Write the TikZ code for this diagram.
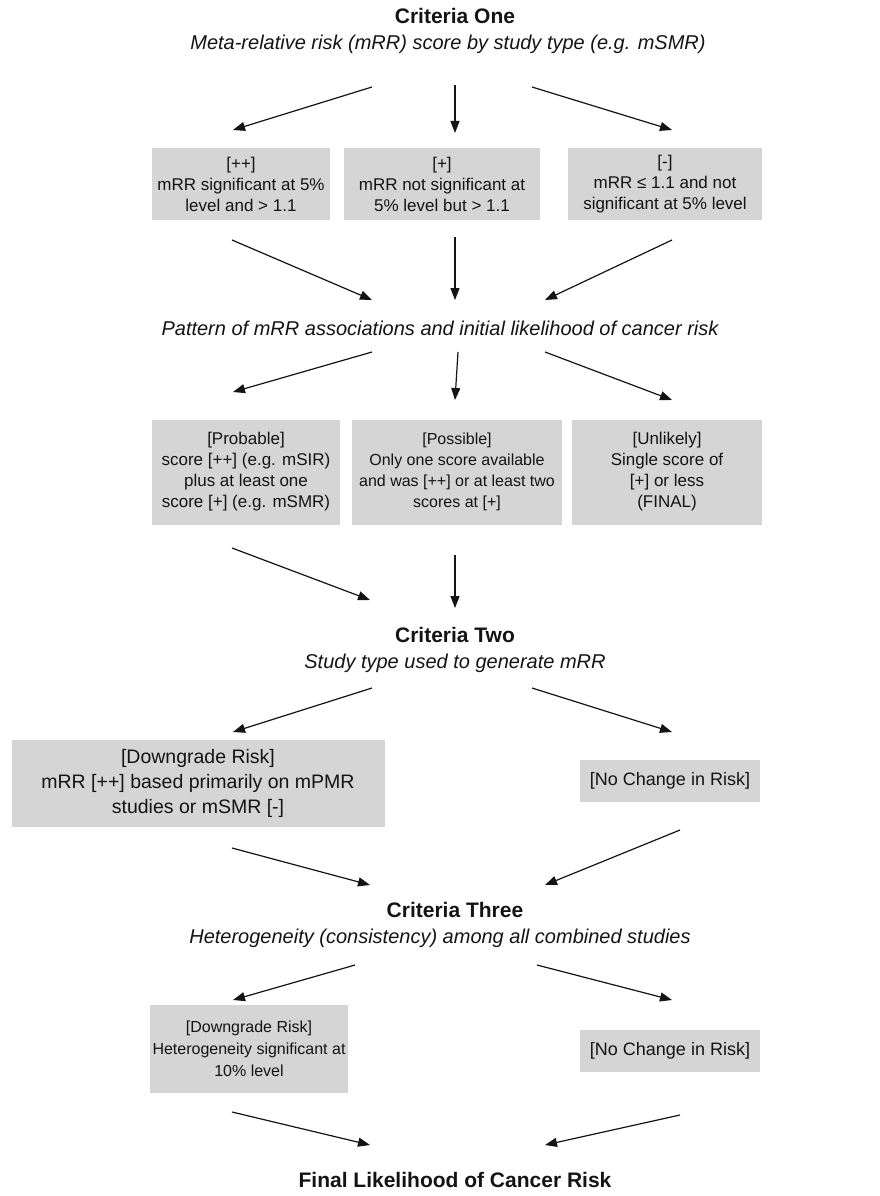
\documentclass[tikz,border=0pt]{standalone}
\usepackage{fontspec}
\setmainfont{Liberation Sans}
\usetikzlibrary{arrows.meta}
\definecolor{boxgray}{RGB}{213,213,213}
\definecolor{ink}{RGB}{20,20,20}
\begin{document}
\begin{tikzpicture}[x=1pt,y=-1pt,
  every node/.style={text=ink,font=\fontsize{17}{21}\selectfont,align=center,inner sep=0pt},
  title/.style={font=\bfseries\fontsize{21}{25}\selectfont},
  sub/.style={font=\itshape\fontsize{20}{24}\selectfont},
  gbox/.style={fill=boxgray,minimum height=#1},
  arr/.style={draw=ink,line width=1.2pt,-{Triangle[length=12pt,width=9pt]}}
]
\useasboundingbox[fill=white] (0,0) rectangle (880,1196);

% Criteria One
\node[title] (c1) at (455,16) {Criteria One};
\node[sub] (c1s) at (448,44) {Meta-relative risk (mRR) score by study type (e.g. mSMR)};

\node[gbox=72pt,minimum width=178pt] (b11) at (241,184) {[++]\\mRR significant at 5\%\\level and > 1.1};
\node[gbox=72pt,minimum width=196pt] (b12) at (442,184) {[+]\\mRR not significant at\\5\% level but > 1.1};
\node[gbox=72pt,minimum width=194pt] (b13) at (665,184) {[-]\\mRR ≤ 1.1 and not\\significant at 5\% level};

\coordinate (a1s) at (372,87);  \coordinate (a1e) at (233,130);
\coordinate (a2s) at (455,85);  \coordinate (a2e) at (455,133);
\coordinate (a3s) at (532,87);  \coordinate (a3e) at (672,130);
\draw[arr] (a1s) -- (a1e);
\draw[arr] (a2s) -- (a2e);
\draw[arr] (a3s) -- (a3e);

% Pattern
\node[sub] (pat) at (440,328) {Pattern of mRR associations and initial likelihood of cancer risk};
\coordinate (b1s) at (232,240); \coordinate (b1e) at (372,300);
\coordinate (b2s) at (455,237); \coordinate (b2e) at (455,300);
\coordinate (b3s) at (672,240); \coordinate (b3e) at (545,300);
\draw[arr] (b1s) -- (b1e);
\draw[arr] (b2s) -- (b2e);
\draw[arr] (b3s) -- (b3e);

\coordinate (p1s) at (372,352); \coordinate (p1e) at (233,392);
\coordinate (p2s) at (458,352); \coordinate (p2e) at (455,400);
\coordinate (p3s) at (545,352); \coordinate (p3e) at (672,400);
\draw[arr] (p1s) -- (p1e);
\draw[arr] (p2s) -- (p2e);
\draw[arr] (p3s) -- (p3e);

\node[gbox=105pt,minimum width=188pt] (b21) at (246,472) {[Probable]\\score [++] (e.g. mSIR)\\plus at least one\\score [+] (e.g. mSMR)};
\node[gbox=105pt,minimum width=210pt,font=\fontsize{16}{21}\selectfont] (b22) at (457,472) {[Possible]\\Only one score available\\and was [++] or at least two\\scores at [+]};
\node[gbox=105pt,minimum width=190pt] (b23) at (667,472) {[Unlikely]\\Single score of\\{[+]} or less\\(FINAL)};

% Criteria Two
\node[title] (c2) at (455,635) {Criteria Two};
\node[sub] (c2s) at (455,663) {Study type used to generate mRR};
\coordinate (q1s) at (232,548); \coordinate (q1e) at (370,600);
\coordinate (q2s) at (455,555); \coordinate (q2e) at (455,608);
\draw[arr] (q1s) -- (q1e);
\draw[arr] (q2s) -- (q2e);

\coordinate (r1s) at (372,688); \coordinate (r1e) at (233,732);
\coordinate (r2s) at (532,688); \coordinate (r2e) at (672,732);
\draw[arr] (r1s) -- (r1e);
\draw[arr] (r2s) -- (r2e);

\node[gbox=87pt,minimum width=373pt,font=\fontsize{19.5}{25}\selectfont] (b31) at (198,783) {[Downgrade Risk]\\mRR [++] based primarily on mPMR\\studies or mSMR [-]};
\node[gbox=42pt,minimum width=180pt,font=\fontsize{18}{22}\selectfont] (b32) at (670,781) {[No Change in Risk]};

% Criteria Three
\node[title] (c3) at (455,910) {Criteria Three};
\node[sub] (c3s) at (440,938) {Heterogeneity (consistency) among all combined studies};
\coordinate (s1s) at (232,848); \coordinate (s1e) at (370,885);
\coordinate (s2s) at (680,830); \coordinate (s2e) at (545,885);
\draw[arr] (s1s) -- (s1e);
\draw[arr] (s2s) -- (s2e);

\coordinate (t1s) at (355,965); \coordinate (t1e) at (233,1000);
\coordinate (t2s) at (537,965); \coordinate (t2e) at (672,1000);
\draw[arr] (t1s) -- (t1e);
\draw[arr] (t2s) -- (t2e);

\node[gbox=88pt,minimum width=198pt,font=\fontsize{16}{22}\selectfont] (b41) at (249,1049) {[Downgrade Risk]\\Heterogeneity significant at\\10\% level};
\node[gbox=42pt,minimum width=180pt,font=\fontsize{18}{22}\selectfont] (b42) at (670,1051) {[No Change in Risk]};

\coordinate (u1s) at (232,1112); \coordinate (u1e) at (370,1145);
\coordinate (u2s) at (680,1115); \coordinate (u2e) at (545,1145);
\draw[arr] (u1s) -- (u1e);
\draw[arr] (u2s) -- (u2e);

\node[title] (fin) at (455,1180) {Final Likelihood of Cancer Risk};
\end{tikzpicture}
\end{document}
